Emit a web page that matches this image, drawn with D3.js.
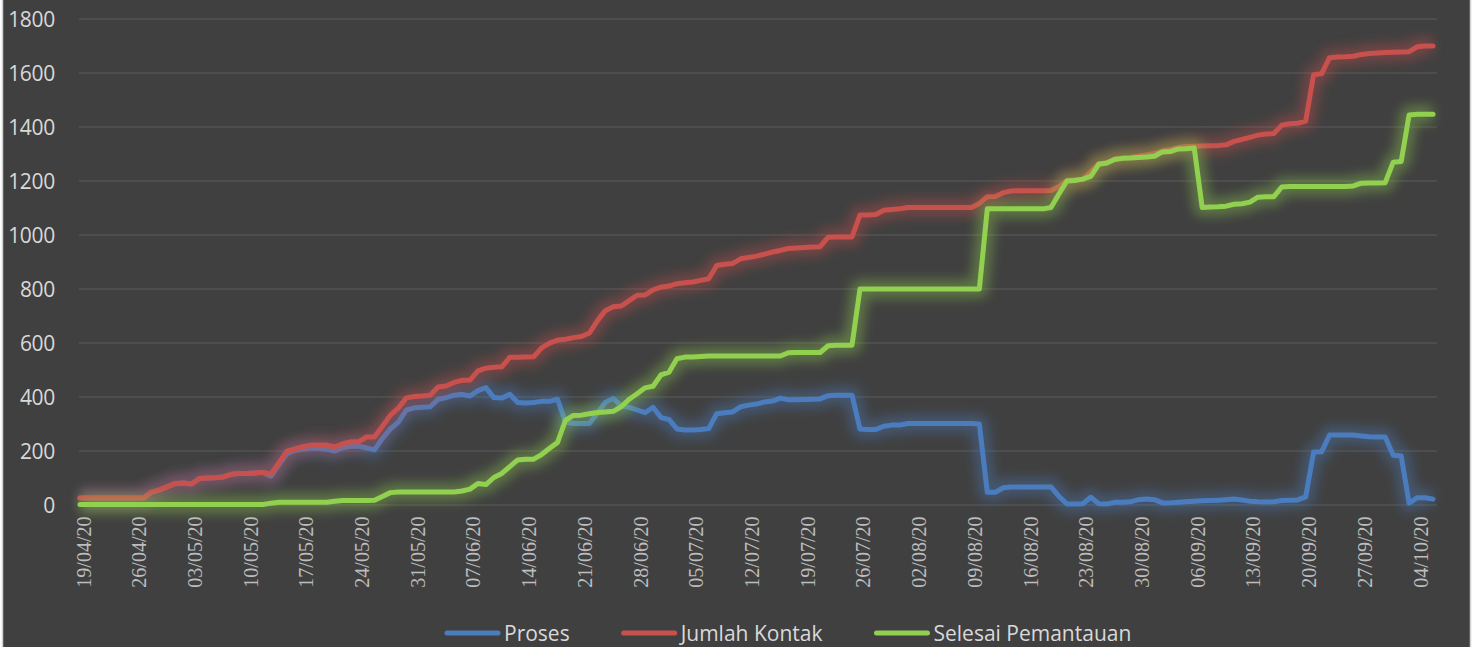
<!DOCTYPE html>
<html>
<head>
<meta charset="utf-8">
<script src="https://cdn.jsdelivr.net/npm/d3@7"></script>
<style>
  body { margin: 0; background: #ffffff; }
  svg { display: block; }
  .xlab { font-family: "Liberation Serif", "DejaVu Serif", serif; }
</style>
</head>
<body>
<div id="chart"></div>
<script>
// daily values, first day 19/04/20
const firstDay = "2020-04-19";
const seriesNames = ["Proses", "Jumlah Kontak", "Selesai Pemantauan"];
const seriesColors = ["#4b7dbe", "#c8504d", "#92d050"];

const tickLabels = [
  "19/04/20", "26/04/20", "03/05/20", "10/05/20", "17/05/20", "24/05/20",
  "31/05/20", "07/06/20", "14/06/20", "21/06/20", "28/06/20", "05/07/20",
  "12/07/20", "19/07/20", "26/07/20", "02/08/20", "09/08/20", "16/08/20",
  "23/08/20", "30/08/20", "06/09/20", "13/09/20", "20/09/20", "27/09/20",
  "04/10/20"
];
const yTicks = [0, 200, 400, 600, 800, 1000, 1200, 1400, 1600, 1800];

const proses = [
  24, 24, 24, 24, 24, 24, 24, 24, 24, 46,
  54, 66, 78, 80, 76, 96, 98, 99, 102, 112,
  115, 115, 117, 119, 105, 148, 188, 200, 205, 208,
  208, 205, 198, 210, 216, 216, 210, 202, 245, 280,
  305, 350, 358, 360, 362, 390, 396, 405, 408, 402,
  422, 433, 396, 394, 408, 378, 376, 378, 382, 382,
  390, 305, 300, 300, 300, 338, 378, 393, 365, 360,
  350, 340, 360, 322, 315, 280, 276, 276, 278, 281,
  336, 340, 343, 362, 368, 372, 380, 383, 394, 388,
  388, 389, 390, 391, 403, 405, 405, 405, 280, 278,
  278, 290, 294, 294, 300, 300, 300, 300, 300, 300,
  300, 300, 300, 298, 45, 45, 62, 65, 65, 65,
  65, 65, 65, 30, 2, 2, 3, 27, 3, 2,
  8, 8, 10, 18, 20, 18, 6, 6, 8, 10,
  12, 14, 15, 16, 18, 20, 17, 12, 10, 9,
  10, 15, 16, 17, 28, 194, 195, 257, 257, 257,
  257, 254, 251, 250, 250, 182, 180, 5, 25, 25,
  20
];

const jumlahKontak = [
  24, 24, 24, 24, 24, 24, 24, 24, 24, 46,
  54, 66, 78, 80, 76, 96, 98, 99, 102, 112,
  115, 115, 117, 119, 113, 155, 198, 206, 214, 220,
  220, 220, 213, 225, 232, 232, 250, 250, 290, 331,
  357, 395, 400, 402, 405, 435, 439, 452, 460, 461,
  495, 505, 508, 510, 545, 545, 546, 547, 580, 598,
  609, 612, 618, 622, 635, 680, 718, 732, 735, 755,
  775, 776, 795, 805, 809, 818, 821, 824, 830, 836,
  885, 890, 893, 910, 915, 920, 927, 935, 941, 948,
  950, 952, 954, 955, 990, 991, 991, 991, 1072, 1072,
  1074, 1090, 1093, 1095, 1100, 1100, 1100, 1100, 1100, 1100,
  1100, 1100, 1100, 1115, 1140, 1141, 1155, 1161, 1162, 1162,
  1162, 1162, 1163, 1178, 1200, 1203, 1205, 1232, 1262, 1265,
  1280, 1283, 1285, 1290, 1295, 1300, 1310, 1315, 1322, 1326,
  1327, 1328, 1329, 1330, 1332, 1345, 1352, 1360, 1368, 1372,
  1374, 1405, 1410, 1412, 1420, 1592, 1595, 1655, 1657, 1658,
  1660, 1667, 1670, 1672, 1674, 1675, 1676, 1677, 1695, 1698,
  1698
];

const selesaiPemantauan = [
  0, 0, 0, 0, 0, 0, 0, 0, 0, 0,
  0, 0, 0, 0, 0, 0, 0, 0, 0, 0,
  0, 0, 0, 0, 5, 8, 8, 8, 8, 8,
  8, 8, 12, 15, 15, 15, 15, 16, 30, 44,
  46, 46, 46, 46, 46, 46, 46, 46, 50, 57,
  78, 74, 100, 115, 140, 165, 168, 168, 185, 208,
  230, 312, 330, 331, 336, 341, 343, 345, 362, 390,
  410, 432, 438, 480, 490, 540, 546, 546, 548, 550,
  550, 550, 550, 550, 550, 550, 550, 550, 550, 562,
  563, 563, 563, 563, 588, 590, 590, 590, 798, 798,
  798, 798, 798, 798, 798, 798, 798, 798, 798, 798,
  798, 798, 798, 798, 1095, 1095, 1095, 1095, 1095, 1095,
  1095, 1095, 1100, 1150, 1198, 1200, 1205, 1215, 1260, 1265,
  1278, 1282, 1283, 1285, 1287, 1290, 1306, 1307, 1317, 1318,
  1320, 1100, 1102, 1103, 1105, 1112, 1114, 1120, 1138, 1140,
  1140, 1176, 1178, 1178, 1178, 1178, 1178, 1178, 1178, 1178,
  1180, 1190, 1191, 1191, 1192, 1268, 1270, 1443, 1445, 1445,
  1445
];

const w = 1478;
const h = 647;
const plotLeft = 79;
const plotRight = 1437;

const start = d3.timeParse("%Y-%m-%d")(firstDay);
const dates = d3.range(proses.length).map((i) => d3.timeDay.offset(start, i));
const parseTick = d3.timeParse("%d/%m/%y");

const xScale = d3
  .scaleTime()
  .domain([dates[0], dates[dates.length - 1]])
  .range([80, 1433]);
const yScale = d3.scaleLinear().domain([0, 1800]).range([504.5, 18.5]);

const svg = d3
  .select("#chart")
  .append("svg")
  .attr("width", w)
  .attr("height", h);

const defs = svg.append("defs");
defs
  .append("filter")
  .attr("id", "glow")
  .attr("x", "-10%")
  .attr("y", "-30%")
  .attr("width", "120%")
  .attr("height", "160%")
  .append("feGaussianBlur")
  .attr("stdDeviation", 6);

svg
  .append("rect")
  .attr("x", 2.5)
  .attr("y", -2)
  .attr("width", 1468)
  .attr("height", h + 4)
  .attr("fill", "#404040")
  .attr("stroke", "#d0d0d0")
  .attr("stroke-width", 1.5);

// y axis + gridlines
const yAxis = d3
  .axisLeft(yScale)
  .tickValues(yTicks)
  .tickSize(-(plotRight - plotLeft))
  .tickPadding(24)
  .tickFormat(d3.format("d"));

const yG = svg
  .append("g")
  .attr("transform", "translate(" + plotLeft + ",0)")
  .call(yAxis);
yG.select(".domain").remove();
yG.selectAll(".tick line").attr("stroke", "#5a5a5a").attr("stroke-width", 1);
yG
  .selectAll(".tick text")
  .attr("fill", "#d9d9d9")
  .attr("font-family", "'Open Sans', 'Noto Sans', sans-serif")
  .attr("font-size", "21px")
  .attr("letter-spacing", "-0.3px")
  .attr("dy", "0.36em");

// x axis labels
const xAxis = d3
  .axisBottom(xScale)
  .tickValues(tickLabels.map(parseTick))
  .tickSize(0)
  .tickFormat((d, i) => tickLabels[i]);

const xG = svg
  .append("g")
  .attr("transform", "translate(0," + yScale(0) + ")")
  .call(xAxis)
  .attr("font-family", null);
xG.select(".domain").remove();
xG
  .selectAll(".tick text")
  .attr("class", "xlab")
  .attr("transform", "rotate(-90)")
  .attr("text-anchor", "end")
  .attr("x", -12)
  .attr("y", 0)
  .attr("dy", "0.5em")
  .attr("fill", "#bdbdbd")
  .style("font-family", "'Liberation Serif', 'DejaVu Serif', serif")
  .style("font-size", "20px");

// lines
const allSeries = [proses, jumlahKontak, selesaiPemantauan];
const line = d3
  .line()
  .x((d, i) => xScale(dates[i]))
  .y((d) => yScale(d));

allSeries.forEach((values, k) => {
  svg
    .append("path")
    .datum(values)
    .attr("d", line)
    .attr("fill", "none")
    .attr("stroke", seriesColors[k])
    .attr("stroke-width", 18)
    .attr("stroke-linejoin", "round")
    .attr("opacity", 0.38)
    .attr("filter", "url(#glow)");
  svg
    .append("path")
    .datum(values)
    .attr("d", line)
    .attr("fill", "none")
    .attr("stroke", seriesColors[k])
    .attr("stroke-width", 5)
    .attr("stroke-linejoin", "round")
    .attr("stroke-linecap", "round");
});

// legend
const legend = svg.append("g").attr("transform", "translate(445,633)");
let lx = 0;
seriesNames.forEach((name, k) => {
  legend
    .append("line")
    .attr("x1", lx + 2)
    .attr("x2", lx + 53)
    .attr("y1", 0)
    .attr("y2", 0)
    .attr("stroke", seriesColors[k])
    .attr("stroke-width", 5)
    .attr("stroke-linecap", "round");
  const t = legend
    .append("text")
    .attr("x", lx + 59)
    .attr("y", 0)
    .attr("dy", "0.36em")
    .attr("fill", "#d9d9d9")
    .attr("font-family", "'Open Sans', 'Noto Sans', sans-serif")
    .attr("font-size", "21px")
    .text(name);
  lx += 59 + t.node().getComputedTextLength() + 52;
});
</script>
</body>
</html>
